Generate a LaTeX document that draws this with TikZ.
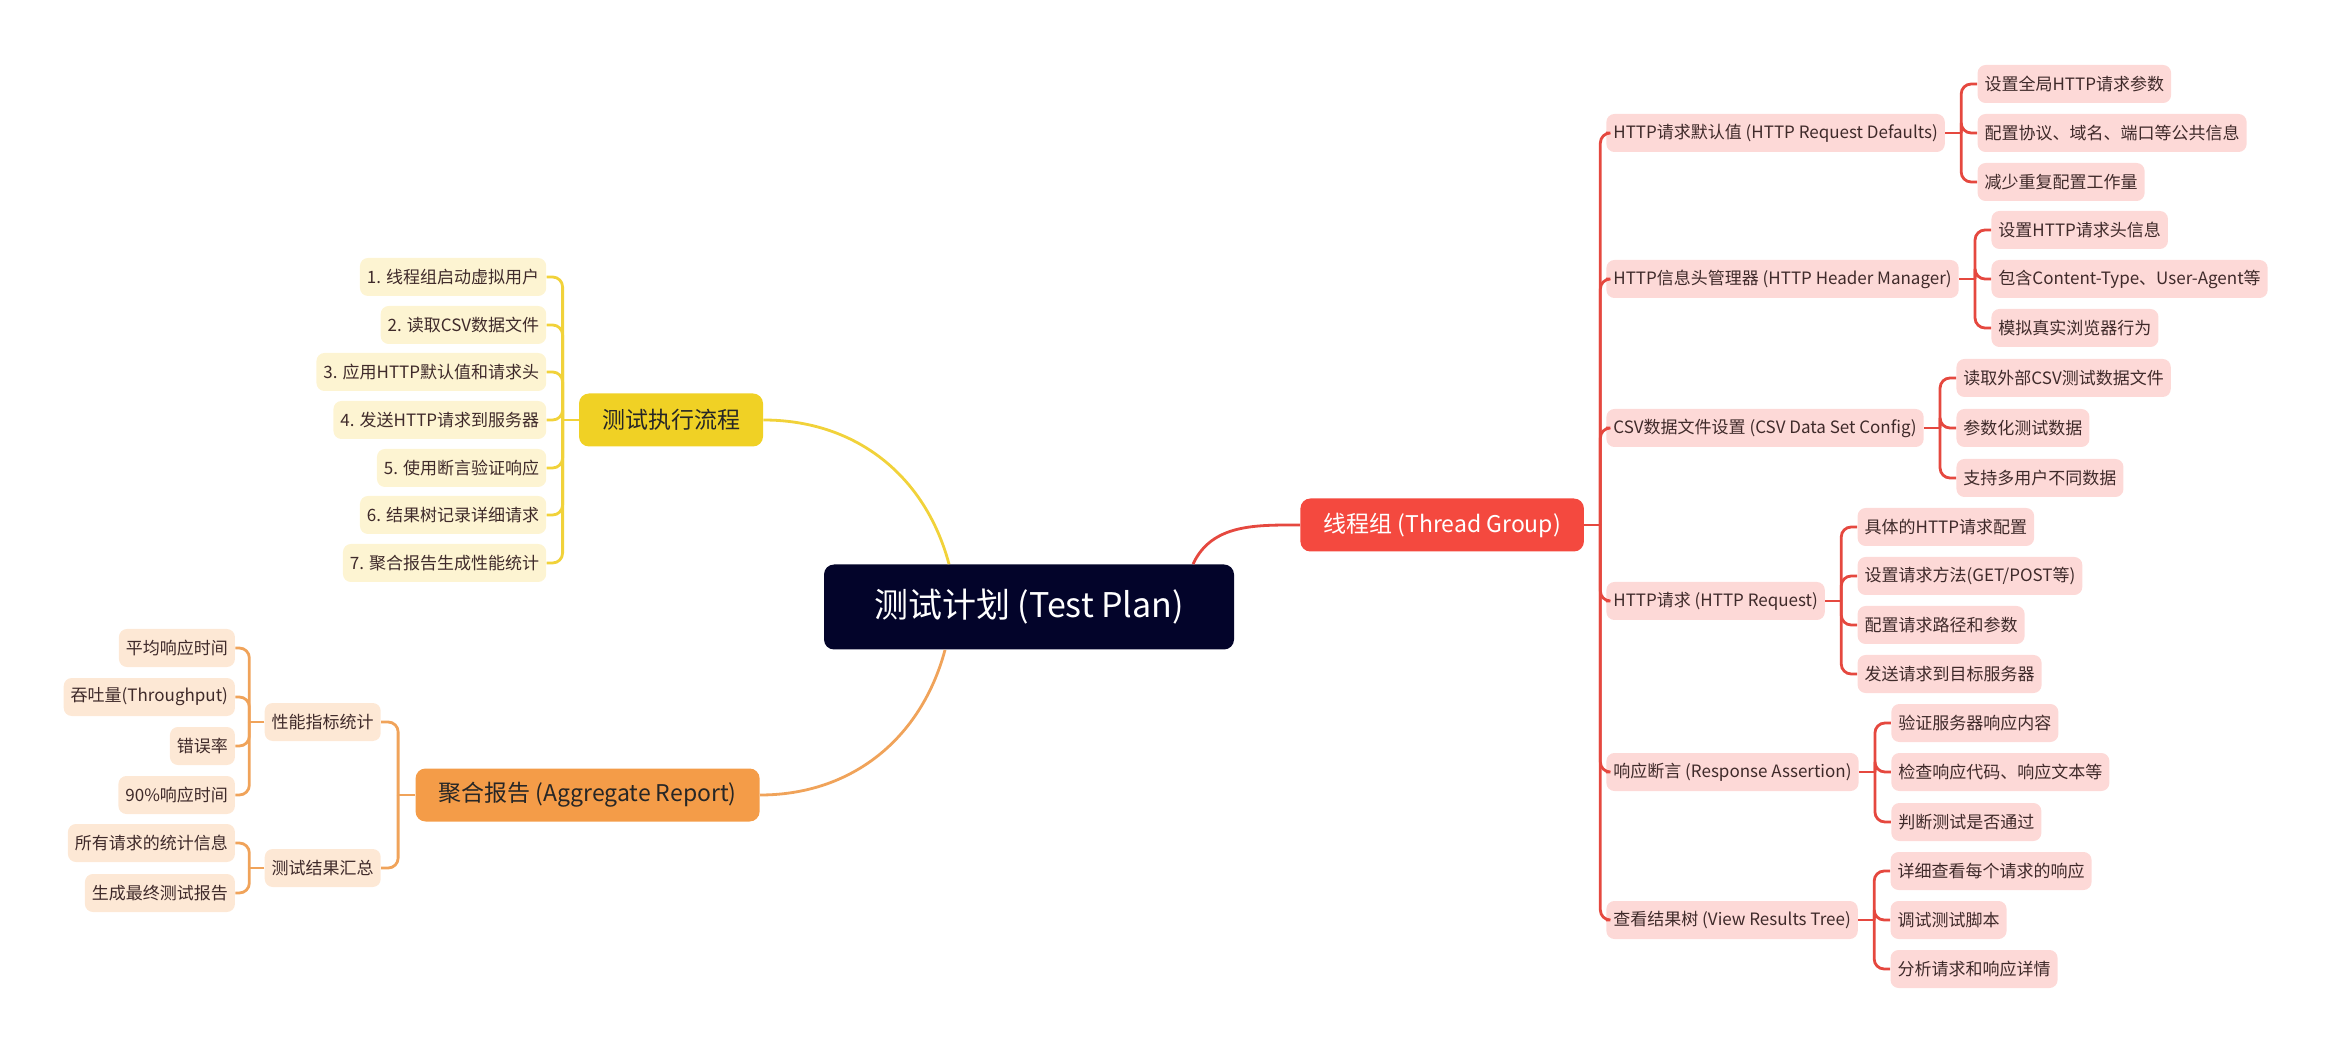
\documentclass[tikz,border=0pt]{standalone}
\usepackage{fontspec}
\setmainfont{Noto Sans CJK SC}
\usetikzlibrary{calc,positioning}
\definecolor{plannavy}{HTML}{03042A}
\definecolor{tgred}{HTML}{F4493F}
\definecolor{redline}{HTML}{E5483F}
\definecolor{redleaf}{HTML}{FDD9D7}
\definecolor{flowyel}{HTML}{F0D125}
\definecolor{yelline}{HTML}{F1D23A}
\definecolor{yelleaf}{HTML}{FDF4D2}
\definecolor{aggorg}{HTML}{F49C48}
\definecolor{orgline}{HTML}{F0A35A}
\definecolor{orgleaf}{HTML}{FDE8D5}
\definecolor{leaftext}{HTML}{3F2A2A}
\tikzset{
    leafbox/.style={rounded corners=4pt, inner xsep=3.5pt, inner ysep=0pt,
        minimum height=19pt, text=leaftext, font=\fontsize{8.5}{10}\selectfont},
    rleaf/.style={leafbox, fill=redleaf},
    yleaf/.style={leafbox, fill=yelleaf},
    oleaf/.style={leafbox, fill=orgleaf},
    mainbox/.style={rounded corners=5pt, inner xsep=11.5pt, inner ysep=0pt,
        minimum height=26.5pt, font=\fontsize{11.5}{13}\selectfont},
    tgbox/.style={mainbox, fill=tgred, text=white},
    flowbox/.style={mainbox, fill=flowyel, text=black!85},
    aggbox/.style={mainbox, fill=aggorg, text=black!85},
    plan/.style={rounded corners=5pt, fill=plannavy, text=white,
        minimum width=205pt, minimum height=42.5pt, font=\fontsize{17}{20}\selectfont},
    redln/.style={draw=redline, line width=1.4pt},
    yelln/.style={draw=yelline, line width=1.4pt},
    orgln/.style={draw=orgline, line width=1.4pt}
}
\begin{document}
\begin{tikzpicture}[x=0.5pt,y=-0.5pt]
    \useasboundingbox (0,0) rectangle (2338,1052);
    % Centre
    \node[plan] (plan) at (1029,607) {测试计划 (Test Plan)};
    % Main branches
    \node[tgbox, anchor=west] (tg) at (1300,525) {线程组 (Thread Group)};
    \node[flowbox] (flow) at (671,420) {测试执行流程};
    \node[aggbox, anchor=east] (agg) at (760,795) {聚合报告 (Aggregate Report)};
    \draw[redln] ([xshift=82pt]plan.north) to[out=65,in=180] (tg.west);
    \draw[yelln] (flow.east) to[out=0,in=105] ([xshift=-40pt]plan.north);
    \draw[orgln] ([xshift=-42pt]plan.south) to[out=-105,in=0] (agg.east);

    % Thread group elements
    \node[rleaf, anchor=west] (dflt) at (1606,133) {HTTP请求默认值 (HTTP Request Defaults)};
    \node[rleaf, anchor=west] (hdr) at (1606,279) {HTTP信息头管理器 (HTTP Header Manager)};
    \node[rleaf, anchor=west] (csv) at (1606,428) {CSV数据文件设置 (CSV Data Set Config)};
    \node[rleaf, anchor=west] (req) at (1606,601) {HTTP请求 (HTTP Request)};
    \node[rleaf, anchor=west] (asrt) at (1606,772) {响应断言 (Response Assertion)};
    \node[rleaf, anchor=west] (tree) at (1606,920) {查看结果树 (View Results Tree)};

    \node[rleaf, anchor=west] (dflt1) at ($(dflt.east)+(32,-49)$) {设置全局HTTP请求参数};
    \node[rleaf, anchor=west] (dflt2) at ($(dflt.east)+(32,0)$) {配置协议、域名、端口等公共信息};
    \node[rleaf, anchor=west] (dflt3) at ($(dflt.east)+(32,49)$) {减少重复配置工作量};

    \node[rleaf, anchor=west] (hdr1) at ($(hdr.east)+(32,-49)$) {设置HTTP请求头信息};
    \node[rleaf, anchor=west] (hdr2) at ($(hdr.east)+(32,0)$) {包含Content-Type、User-Agent等};
    \node[rleaf, anchor=west] (hdr3) at ($(hdr.east)+(32,49)$) {模拟真实浏览器行为};

    \node[rleaf, anchor=west] (csv1) at ($(csv.east)+(32,-50)$) {读取外部CSV测试数据文件};
    \node[rleaf, anchor=west] (csv2) at ($(csv.east)+(32,0)$) {参数化测试数据};
    \node[rleaf, anchor=west] (csv3) at ($(csv.east)+(32,50)$) {支持多用户不同数据};

    \node[rleaf, anchor=west] (req1) at ($(req.east)+(32,-74)$) {具体的HTTP请求配置};
    \node[rleaf, anchor=west] (req2) at ($(req.east)+(32,-25)$) {设置请求方法(GET/POST等)};
    \node[rleaf, anchor=west] (req3) at ($(req.east)+(32,24)$) {配置请求路径和参数};
    \node[rleaf, anchor=west] (req4) at ($(req.east)+(32,73)$) {发送请求到目标服务器};

    \node[rleaf, anchor=west] (asrt1) at ($(asrt.east)+(32,-49)$) {验证服务器响应内容};
    \node[rleaf, anchor=west] (asrt2) at ($(asrt.east)+(32,0)$) {检查响应代码、响应文本等};
    \node[rleaf, anchor=west] (asrt3) at ($(asrt.east)+(32,50)$) {判断测试是否通过};

    \node[rleaf, anchor=west] (tree1) at ($(tree.east)+(32,-49)$) {详细查看每个请求的响应};
    \node[rleaf, anchor=west] (tree2) at ($(tree.east)+(32,0)$) {调试测试脚本};
    \node[rleaf, anchor=west] (tree3) at ($(tree.east)+(32,49)$) {分析请求和响应详情};

    \draw[redln] (tg.east) -- ++(16,0) coordinate (tg-j);
    \foreach \c in {dflt,hdr,csv,req,asrt,tree}
        \draw[redln, rounded corners=5pt] (tg-j) |- (\c.west);
    \foreach \p/\n in {dflt/3,hdr/3,csv/3,req/4,asrt/3,tree/3} {
        \draw[redln] (\p.east) -- ++(16,0) coordinate (\p-j);
        \foreach \i in {1,...,\n}
            \draw[redln, rounded corners=5pt] (\p-j) |- (\p\i.west);
    }

    % Execution flow steps
    \node[yleaf, anchor=east] (flow1) at ($(flow.west)+(-32,-143)$) {1. 线程组启动虚拟用户};
    \node[yleaf, anchor=east] (flow2) at ($(flow.west)+(-32,-95)$) {2. 读取CSV数据文件};
    \node[yleaf, anchor=east] (flow3) at ($(flow.west)+(-32,-48)$) {3. 应用HTTP默认值和请求头};
    \node[yleaf, anchor=east] (flow4) at ($(flow.west)+(-32,0)$) {4. 发送HTTP请求到服务器};
    \node[yleaf, anchor=east] (flow5) at ($(flow.west)+(-32,48)$) {5. 使用断言验证响应};
    \node[yleaf, anchor=east] (flow6) at ($(flow.west)+(-32,95)$) {6. 结果树记录详细请求};
    \node[yleaf, anchor=east] (flow7) at ($(flow.west)+(-32,143)$) {7. 聚合报告生成性能统计};
    \draw[yelln] (flow.west) -- ++(-16,0) coordinate (flow-j);
    \foreach \i in {1,...,7}
        \draw[yelln, rounded corners=5pt] (flow-j) |- (flow\i.east);

    % Aggregate report
    \node[oleaf, anchor=east] (perf) at ($(agg.west)+(-34,-73)$) {性能指标统计};
    \node[oleaf, anchor=east] (summ) at ($(agg.west)+(-34,73)$) {测试结果汇总};
    \node[oleaf, anchor=east] (perf1) at ($(perf.west)+(-29,-74)$) {平均响应时间};
    \node[oleaf, anchor=east] (perf2) at ($(perf.west)+(-29,-25)$) {吞吐量(Throughput)};
    \node[oleaf, anchor=east] (perf3) at ($(perf.west)+(-29,24)$) {错误率};
    \node[oleaf, anchor=east] (perf4) at ($(perf.west)+(-29,73)$) {90\%响应时间};
    \node[oleaf, anchor=east] (summ1) at ($(summ.west)+(-29,-25)$) {所有请求的统计信息};
    \node[oleaf, anchor=east] (summ2) at ($(summ.west)+(-29,25)$) {生成最终测试报告};

    \draw[orgln] (agg.west) -- ++(-17,0) coordinate (agg-j);
    \foreach \c in {perf,summ}
        \draw[orgln, rounded corners=5pt] (agg-j) |- (\c.east);
    \foreach \p/\n in {perf/4,summ/2} {
        \draw[orgln] (\p.west) -- ++(-15,0) coordinate (\p-j);
        \foreach \i in {1,...,\n}
            \draw[orgln, rounded corners=5pt] (\p-j) |- (\p\i.east);
    }
\end{tikzpicture}
\end{document}
